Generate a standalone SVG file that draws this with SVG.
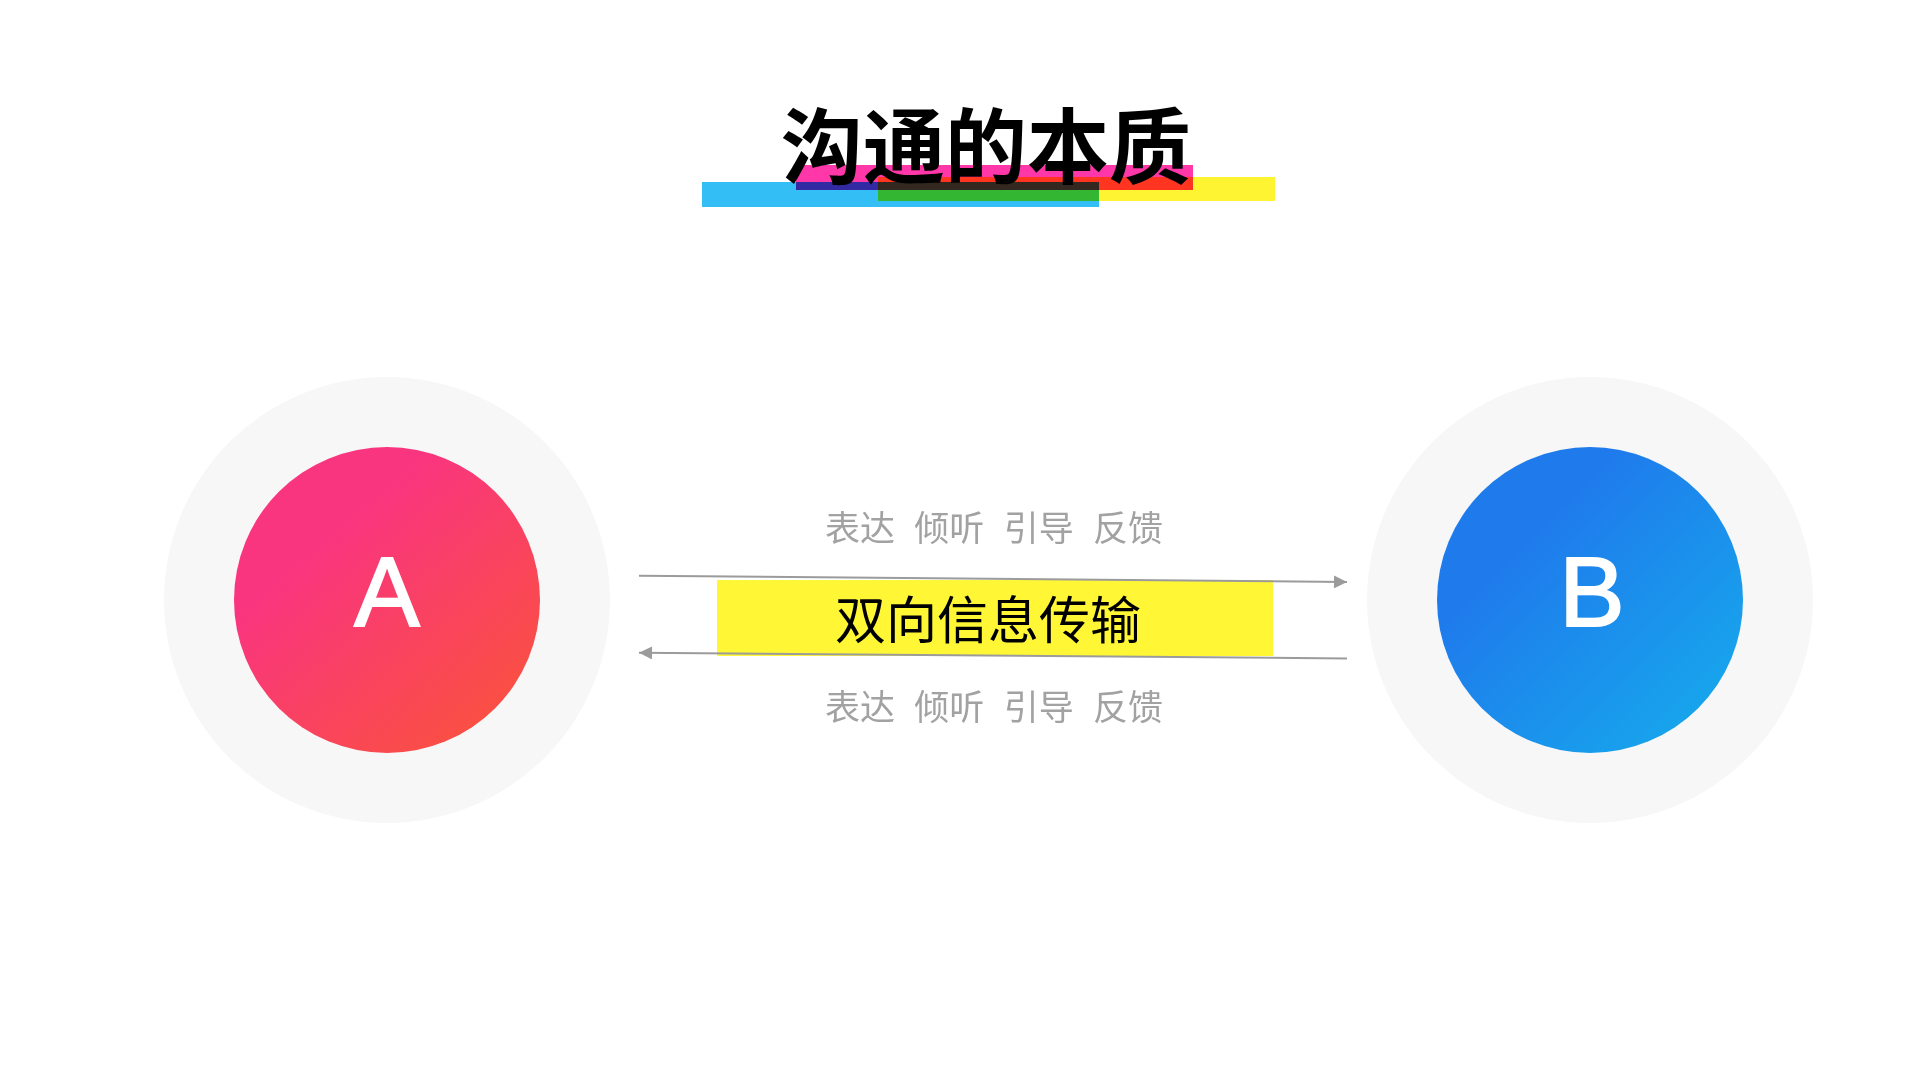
<svg xmlns="http://www.w3.org/2000/svg" width="1920" height="1080" viewBox="0 0 1920 1080">
  <style>
    .cjk { font-family: "Noto Sans CJK SC", "Noto Sans", sans-serif; }
    .latin { font-family: "Liberation Sans", Arial, sans-serif; }
    .bar { mix-blend-mode: multiply; }
    .halo { fill: #F7F7F7; }
    .conn { stroke: #9B9B9B; stroke-width: 2; fill: none; }
    .label { fill: #A2A2A2; font-size: 35px; word-spacing: 11.5px; }
    .letter { fill: #FFFFFF; stroke: #FFFFFF; stroke-width: 2; stroke-linejoin: miter; font-size: 98px; text-anchor: middle; }
  </style>
  <defs>
    <linearGradient id="gradA" x1="0.3" y1="0.3" x2="0.9" y2="1">
      <stop offset="0" stop-color="#F9357F"/>
      <stop offset="1" stop-color="#FA533A"/>
    </linearGradient>
    <linearGradient id="gradB" x1="0.3" y1="0.3" x2="1" y2="1">
      <stop offset="0" stop-color="#1F7BEC"/>
      <stop offset="1" stop-color="#15AEEC"/>
    </linearGradient>
    <marker id="arrow" viewBox="0 0 10 10" refX="10" refY="5" markerWidth="14" markerHeight="13" markerUnits="userSpaceOnUse" orient="auto">
      <path d="M0,0 L10,5 L0,10 z" fill="#9B9B9B"/>
    </marker>
  </defs>
  <rect width="1920" height="1080" fill="#FFFFFF"/>

  <g id="title">
    <g style="isolation:isolate">
      <rect class="bar" x="702" y="182" width="397" height="25" fill="#33BEF6"/>
      <rect class="bar" x="796" y="165" width="397" height="25" fill="#FF37A8"/>
      <rect class="bar" x="878" y="177" width="397" height="24" fill="#FFF432"/>
    </g>
    <text class="cjk" x="986" y="177" font-size="82" font-weight="700" text-anchor="middle" fill="#000000">沟通的本质</text>
  </g>

  <g id="node-A">
    <circle class="halo" cx="387" cy="600" r="223"/>
    <circle cx="387" cy="600" r="153" fill="url(#gradA)"/>
    <text class="latin letter" x="387" y="626">A</text>
  </g>

  <g id="node-B">
    <circle class="halo" cx="1590" cy="600" r="223"/>
    <circle cx="1590" cy="600" r="153" fill="url(#gradB)"/>
    <text class="latin letter" x="1592" y="626">B</text>
  </g>

  <g id="center-label">
    <rect x="717" y="580" width="556" height="76" fill="#FFF735"/>
    <text class="cjk" x="988" y="639" font-size="51" text-anchor="middle" fill="#000000">双向信息传输</text>
  </g>

  <g id="connectors">
    <line class="conn" x1="639" y1="575.7" x2="1347" y2="582" marker-end="url(#arrow)"/>
    <line class="conn" x1="1347" y1="658.4" x2="639" y2="652.8" marker-end="url(#arrow)"/>
  </g>

  <g id="labels">
    <text class="cjk label" x="825" y="541">表达 倾听 引导 反馈</text>
    <text class="cjk label" x="825" y="720">表达 倾听 引导 反馈</text>
  </g>
</svg>
